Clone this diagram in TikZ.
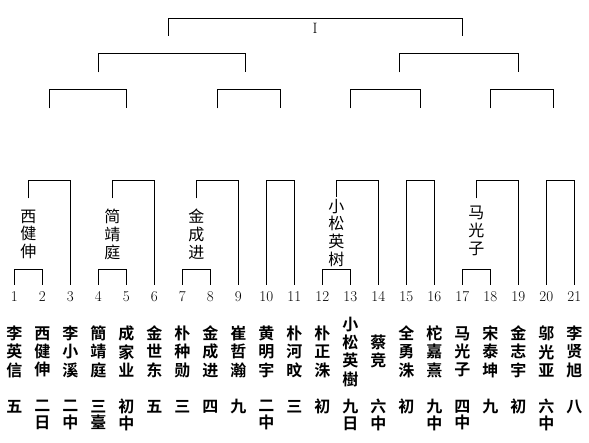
\documentclass[tikz,border=0pt]{standalone}
\usepackage{fontspec}
\newfontfamily\cjk{Noto Sans CJK SC}
\newfontfamily\cjkbold{Noto Sans CJK SC Bold}

\begin{document}
\begin{tikzpicture}[x=1pt, y=-1pt, line width=1pt,
  num/.style={anchor=north, inner xsep=0pt, inner ysep=6pt, font=\fontsize{15}{15}\selectfont},
  tag/.style={align=center, inner sep=0pt, font=\cjk\fontsize{16}{17.7}\selectfont},
  player/.style={align=center, inner sep=0pt, font=\cjkbold\fontsize{16}{18.3}\selectfont},
  rank/.style={align=center, inner sep=0pt, font=\cjkbold\fontsize{16}{16.7}\selectfont}]
  \useasboundingbox (0,0) rectangle (589,443);
  % seed numbers
  \node[num] (n1) at (14.3,285) {1};
  \node[num] (n2) at (42.3,285) {2};
  \node[num] (n3) at (70.3,285) {3};
  \node[num] (n4) at (98.3,285) {4};
  \node[num] (n5) at (126.3,285) {5};
  \node[num] (n6) at (154.3,285) {6};
  \node[num] (n7) at (182.3,285) {7};
  \node[num] (n8) at (210.3,285) {8};
  \node[num] (n9) at (238.3,285) {9};
  \node[num] (n10) at (266.3,285) {10};
  \node[num] (n11) at (294.3,285) {11};
  \node[num] (n12) at (322.3,285) {12};
  \node[num] (n13) at (350.3,285) {13};
  \node[num] (n14) at (378.3,285) {14};
  \node[num] (n15) at (406.3,285) {15};
  \node[num] (n16) at (434.3,285) {16};
  \node[num] (n17) at (462.3,285) {17};
  \node[num] (n18) at (490.3,285) {18};
  \node[num] (n19) at (518.3,285) {19};
  \node[num] (n20) at (546.3,285) {20};
  \node[num] (n21) at (574.3,285) {21};
  % players
  \node[player] (m1) at (14.3,351.7) {李\\英\\信};
  \node[player] (m2) at (42.3,351.7) {西\\健\\伸};
  \node[player] (m3) at (70.3,351.7) {李\\小\\溪};
  \node[player] (m4) at (98.3,351.7) {簡\\靖\\庭};
  \node[player] (m5) at (126.3,351.7) {成\\家\\业};
  \node[player] (m6) at (154.3,351.7) {金\\世\\东};
  \node[player] (m7) at (182.3,351.7) {朴\\种\\勋};
  \node[player] (m8) at (210.3,351.7) {金\\成\\进};
  \node[player] (m9) at (238.3,351.7) {崔\\哲\\瀚};
  \node[player] (m10) at (266.3,351.7) {黄\\明\\宇};
  \node[player] (m11) at (294.3,351.7) {朴\\河\\旼};
  \node[player] (m12) at (322.3,351.7) {朴\\正\\洙};
  \node[player] (m13) at (350.3,351.7) {小\\松\\英\\樹};
  \node[player] (m14) at (378.3,351.7) {蔡\\竞};
  \node[player] (m15) at (406.3,351.7) {全\\勇\\洙};
  \node[player] (m16) at (434.3,351.7) {柁\\嘉\\熹};
  \node[player] (m17) at (462.3,351.7) {马\\光\\子};
  \node[player] (m18) at (490.3,351.7) {宋\\泰\\坤};
  \node[player] (m19) at (518.3,351.7) {金\\志\\宇};
  \node[player] (m20) at (546.3,351.7) {邬\\光\\亚};
  \node[player] (m21) at (574.3,351.7) {李\\贤\\旭};
  % ranks
  \node[rank] (r1) at (14.3,406.7) {五};
  \node[rank] (r2) at (42.3,415) {二\\日};
  \node[rank] (r3) at (70.3,415) {二\\中};
  \node[rank] (r4) at (98.3,415) {三\\臺};
  \node[rank] (r5) at (126.3,415) {初\\中};
  \node[rank] (r6) at (154.3,406.7) {五};
  \node[rank] (r7) at (182.3,406.7) {三};
  \node[rank] (r8) at (210.3,406.7) {四};
  \node[rank] (r9) at (238.3,406.7) {九};
  \node[rank] (r10) at (266.3,415) {二\\中};
  \node[rank] (r11) at (294.3,406.7) {三};
  \node[rank] (r12) at (322.3,406.7) {初};
  \node[rank] (r13) at (350.3,415) {九\\日};
  \node[rank] (r14) at (378.3,415) {六\\中};
  \node[rank] (r15) at (406.3,406.7) {初};
  \node[rank] (r16) at (434.3,415) {九\\中};
  \node[rank] (r17) at (462.3,415) {四\\中};
  \node[rank] (r18) at (490.3,406.7) {九};
  \node[rank] (r19) at (518.3,406.7) {初};
  \node[rank] (r20) at (546.3,415) {六\\中};
  \node[rank] (r21) at (574.3,406.7) {八};
  % first round
  \draw (n1.north) -- ++(0,-15) -| (n2.north);
  \draw (n4.north) -- ++(0,-15) -| (n5.north);
  \draw (n7.north) -- ++(0,-15) -| (n8.north);
  \draw (n12.north) -- ++(0,-15) -| (n13.north);
  \draw (n17.north) -- ++(0,-15) -| (n18.north);
  % winners written inside the brackets
  \node[tag] (w2) at (28.3,234.3) {西\\健\\伸};
  \node[tag] (w4) at (112.3,234.3) {简\\靖\\庭};
  \node[tag] (w8) at (196.3,234.3) {金\\成\\进};
  \node[tag] (w13) at (336.3,232.6) {小\\松\\英\\树};
  \node[tag] (w17) at (476.3,231) {马\\光\\子};
  \coordinate (e2) at (28.3,198.3);
  \coordinate (e4) at (112.3,198.3);
  \coordinate (e8) at (196.3,198.3);
  \coordinate (e13) at (336.3,196.7);
  \coordinate (e17) at (476.3,198.3);
  % second round
  \draw (e2) -- ++(0,-17.6) -| (n3.north);
  \draw (e4) -- ++(0,-17.6) -| (n6.north);
  \draw (e8) -- ++(0,-17.6) -| (n9.north);
  \draw (n10.north) -- ++(0,-104.3) -| (n11.north);
  \draw (e13) -- ++(0,-16) -| (n14.north);
  \draw (n15.north) -- ++(0,-104.3) -| (n16.north);
  \draw (e17) -- ++(0,-17.6) -| (n19.north);
  \draw (n20.north) -- ++(0,-104.3) -| (n21.north);
  % upper rounds
  \coordinate (c1a) at (49.3,108.3);  \coordinate (c1b) at (126.3,108.3);
  \coordinate (c2a) at (217.3,108.3); \coordinate (c2b) at (280.7,108.3);
  \coordinate (c3a) at (350.3,108.3); \coordinate (c3b) at (420.3,108.3);
  \coordinate (c4a) at (490.3,108.3); \coordinate (c4b) at (553.3,108.3);
  \coordinate (d1a) at (98.3,72.3);   \coordinate (d1b) at (245.3,72.3);
  \coordinate (d2a) at (399.3,72.3);  \coordinate (d2b) at (518.3,72.3);
  \coordinate (fa) at (168.3,36);     \coordinate (fb) at (462.3,36);
  \draw (c1a) -- ++(0,-18.3) -| (c1b);
  \draw (c2a) -- ++(0,-18.3) -| (c2b);
  \draw (c3a) -- ++(0,-18.3) -| (c3b);
  \draw (c4a) -- ++(0,-18.3) -| (c4b);
  \draw (d1a) -- ++(0,-18.3) -| (d1b);
  \draw (d2a) -- ++(0,-18.3) -| (d2b);
  \draw (fa) -- ++(0,-17.7) -| (fb);
  \node[font=\fontsize{15}{15}\selectfont, inner sep=0pt] (champ) at (315,28.3) {I};
\end{tikzpicture}
\end{document}
